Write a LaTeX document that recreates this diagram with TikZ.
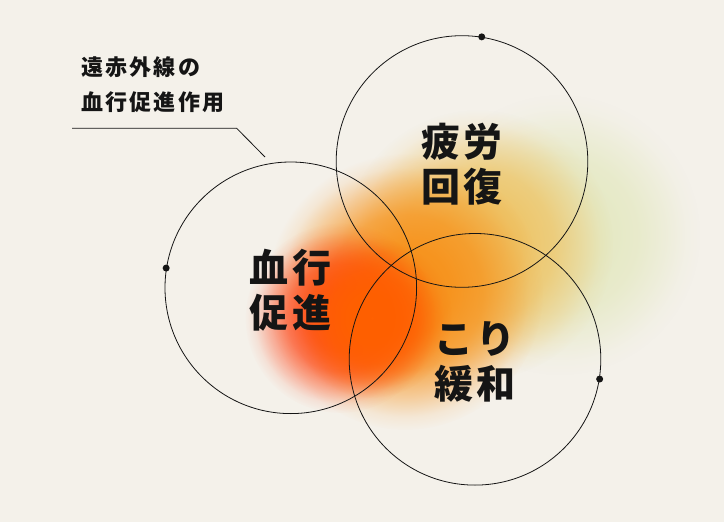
\documentclass[tikz,border=0pt]{standalone}
\usepackage{fontspec}
\newfontfamily\jp{Noto Sans CJK JP}
\usetikzlibrary{fadings}
\definecolor{bg}{HTML}{F4F1EA}
\definecolor{ink}{HTML}{151515}
\definecolor{gGreen}{HTML}{E3E8BE}
\definecolor{gYellow}{HTML}{EFC466}
\definecolor{gOrange}{HTML}{F7921C}
\definecolor{gRed}{HTML}{FF4418}
\definecolor{gCore}{HTML}{FF6000}
\pgfdeclareradialshading{glowshade}{\pgfpointorigin}{color(0bp)=(white); color(8bp)=(white!96!black); color(14bp)=(white!75!black); color(19bp)=(white!38!black); color(22.5bp)=(white!10!black); color(25bp)=(black); color(50bp)=(black)}
\pgfdeclarefading{glow}{\pgfuseshading{glowshade}}
\newcommand\ks{\kern2.2pt}
\newcommand\kb{\kern4pt}
\tikzset{
  ring/.style={circle, draw=ink, line width=0.8pt, minimum size=251.6pt, inner sep=0pt},
  pin/.style={circle, fill=ink, inner sep=0pt, minimum size=7pt},
  bigtext/.style={font=\jp\bfseries\fontsize{39}{45}\selectfont, text=ink, align=center, inner sep=0pt},
  smalltext/.style={font=\jp\bfseries\fontsize{22}{35}\selectfont, text=ink, align=left, inner sep=0pt},
  leader/.style={draw=ink, line width=0.8pt},
  blob/.style={path fading=glow}
}
\begin{document}
\begin{tikzpicture}[x=1pt, y=-1pt]
\useasboundingbox (0,0) rectangle (724,522);
\fill[bg] (0,0) rectangle (724,522);
% glow
\fill[gGreen, blob, opacity=0.9] (560,235) circle [radius=140pt];
\fill[gYellow, blob] (478,245) circle [radius=135pt];
\fill[gOrange, blob] (405,292) circle [radius=138pt];
\fill[gRed, blob, opacity=0.9] (340,318) circle [radius=95pt];
\fill[gCore, blob] (372,318) circle [radius=80pt];
% circles
\node[ring] (c1) at (290.8,287.8) {};
\node[ring] (c2) at (462,161.5) {};
\node[ring] (c3) at (475,359.3) {};
\node[pin] (p1) at (c1.171) {};
\node[pin] (p2) at (c2.81) {};
\node[pin] (p3) at (c3.-9) {};
% labels
\node[bigtext] (t1) at ([yshift=-2.5pt]c1.center) {血\kb 行\\促\kb 進};
\node[bigtext] (t2) at ([yshift=-2.5pt]c2.center) {疲\kb 労\\回\kb 復};
\node[bigtext] (t3) at ([yshift=-2.5pt]c3.center) {こ\kb り\\緩\kb 和};
% callout
\node[smalltext, anchor=north west] (note) at (81,56) {遠\ks 赤\ks 外\ks 線\ks の\\血\ks 行\ks 促\ks 進\ks 作\ks 用};
\coordinate (k0) at (72,128.3);
\coordinate (k1) at (236.7,128.3);
\coordinate (k2) at (265,157);
\draw[leader] (k0) -- (k1) -- (k2);
\end{tikzpicture}
\end{document}
